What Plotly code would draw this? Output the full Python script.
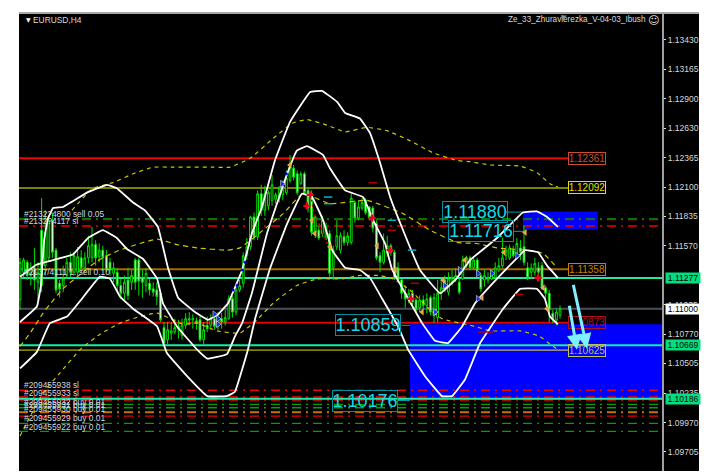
import plotly.graph_objects as go

# Candles, prices in units of 0.0001
open_p = [11108,11133,11142,11130,11137,11124,11171,11139,11146,11180,11153,11123,11121,11130,11142,11133,11133,11146,11137,11146,
11146,11158,11147,11153,11148,11142,11132,11133,11121,11114,11126,11124,11144,11144,11128,11121,11123,11118,11117,11114,
11083,11072,11078,11079,11082,11076,11085,11091,11090,11089,11090,11072,11085,11085,11091,11084,11091,11088,11091,11109,
11097,11117,11123,11148,11156,11183,11165,11204,11189,11193,11198,11199,11200,11203,11205,11216,11227,11222,11213,11222,
11207,11204,11169,11171,11168,11165,11168,11137,11156,11153,11165,11160,11160,11196,11182,11191,11198,11192,11191,11177,
11148,11142,11150,11157,11151,11137,11126,11114,11109,11114,11108,11101,11108,11103,11110,11094,11092,11114,11126,11115,
11123,11126,11124,11127,11139,11146,11137,11144,11130,11126,11126,11127,11128,11135,11139,11148,11146,11153,11150,11155,
11156,11137,11133,11133,11137,11139,11119,11114,11096,11090,11094]
high_p = [11146,11146,11144,11142,11155,11142,11200,11189,11184,11187,11155,11126,11139,11146,11151,11151,11156,11153,11151,11166,
11174,11162,11159,11157,11153,11146,11142,11137,11127,11130,11137,11135,11146,11146,11135,11137,11127,11124,11124,11117,
11088,11088,11088,11091,11090,11091,11096,11097,11095,11092,11093,11088,11093,11095,11097,11097,11096,11099,11112,11112,
11121,11126,11151,11164,11184,11187,11207,11212,11211,11207,11221,11205,11211,11216,11225,11239,11230,11225,11224,11224,
11209,11207,11184,11175,11184,11178,11171,11157,11180,11169,11171,11169,11204,11198,11198,11200,11200,11193,11193,11180,
11151,11168,11166,11159,11153,11142,11127,11121,11118,11117,11110,11112,11112,11114,11112,11114,11126,11126,11130,11133,
11135,11137,11127,11148,11148,11148,11146,11146,11132,11135,11133,11135,11142,11146,11164,11157,11158,11157,11164,11162,
11175,11142,11141,11146,11142,11142,11121,11117,11099,11100,11103]
low_p = [11099,11128,11126,11121,11117,11108,11115,11130,11142,11146,11114,11110,11115,11127,11128,11130,11128,11133,11132,11141,
11142,11139,11142,11135,11133,11130,11124,11115,11109,11108,11108,11117,11117,11112,11110,11115,11112,11111,11103,11088,
11066,11068,11072,11077,11073,11072,11082,11085,11082,11081,11070,11068,11079,11081,11081,11081,11082,11085,11090,11092,
11094,11115,11119,11144,11153,11162,11162,11184,11184,11189,11193,11195,11196,11198,11203,11214,11216,11203,11212,11203,
11187,11166,11164,11162,11165,11162,11129,11126,11153,11150,11157,11157,11158,11178,11180,11189,11185,11180,11169,11144,
11133,11140,11147,11148,11126,11124,11109,11101,11105,11103,11097,11097,11099,11096,11094,11087,11088,11108,11115,11112,
11121,11124,11113,11126,11137,11135,11135,11132,11115,11120,11123,11126,11127,11133,11137,11144,11144,11146,11146,11144,
11139,11126,11127,11130,11130,11117,11108,11088,11087,11085,11091]
close_p = [11142,11144,11130,11137,11126,11133,11121,11169,11180,11151,11117,11118,11127,11142,11133,11148,11147,11137,11146,11157,
11158,11146,11153,11146,11135,11135,11137,11121,11114,11124,11112,11130,11124,11125,11124,11132,11117,11115,11111,11090,
11069,11081,11080,11083,11084,11085,11091,11090,11091,11087,11072,11081,11082,11091,11084,11092,11088,11092,11109,11097,
11117,11121,11148,11156,11183,11165,11204,11189,11204,11205,11212,11203,11209,11213,11218,11228,11219,11205,11222,11205,
11191,11169,11183,11164,11180,11174,11132,11153,11166,11166,11160,11166,11200,11182,11192,11196,11187,11182,11173,11146,
11142,11153,11157,11151,11127,11126,11114,11109,11114,11106,11099,11108,11103,11109,11097,11110,11114,11119,11117,11127,
11128,11130,11115,11144,11146,11137,11144,11135,11118,11130,11128,11132,11137,11139,11146,11153,11155,11148,11159,11151,
11142,11128,11137,11141,11133,11119,11114,11099,11091,11097,11100]
bars = list(range(len(close_p)))

# White envelopes
upper_bars = [0,4.7,5.8,6.7,7.8,9.2,11.9,18.6,24.2,26.9,31.4,34.7,38.3,41.1,43.9,48.6,52.2,54.7,57.8,61.7,64.4,67.2,70.8,75,80.6,83.9,88.1,90.3,94.4,97.2,100,102.8,106.4,111.1,116.7,121.4,125,132.5,139.7,143.6,146.4,149.4]
upper_vals = [11088,11102,11121,11162,11182,11191,11192,11205,11212,11209,11196,11189,11174,11137,11110,11097,11090,11094,11105,11135,11168,11192,11234,11269,11296,11297,11287,11277,11272,11259,11232,11201,11171,11135,11114,11128,11144,11164,11187,11188,11183,11174]
middle_bars = [0,4.7,10.3,14.7,18.9,23,26.9,29.7,34.2,38.1,39.7,43.6,49.2,52,57.5,59.7,61.7,64.4,68.6,74.2,76.9,79.7,84.2,86.1,90.3,95.3,98.1,101.4,103.3,111.7,115.3,118.9,122.8,126.4,133.3,138.1,140.3,143.9,146.4,149.4]
middle_vals = [11129,11140,11145,11149,11164,11171,11164,11154,11145,11127,11105,11084,11063,11055,11059,11075,11087,11114,11168,11222,11243,11247,11239,11227,11207,11201,11180,11159,11136,11087,11071,11069,11084,11105,11130,11146,11153,11151,11139,11128]
lower_bars = [0,4.7,8.3,13.1,16.7,22.2,25,27.8,31.4,38.1,40.8,46.4,52,57.5,59.7,63.3,65.3,69.4,74.2,78.3,81.1,84.2,86.7,90.3,94.4,97.2,100.6,105,107.8,112.5,117.2,120,123.6,127.8,134.2,138.9,143.6,145.8,147.2,149.4]
lower_vals = [11046,11061,11087,11093,11107,11129,11127,11111,11100,11084,11060,11039,11021,11021,11025,11063,11091,11136,11177,11204,11201,11180,11153,11137,11135,11128,11109,11084,11063,11039,11021,11021,11036,11069,11100,11118,11118,11109,11093,11086]

# Yellow dotted bands
yel_top_bars = [14.4,20.3,25.8,31.4,36.9,42.5,53.6,58.3,63.9,70.3,75.8,79.7,85.3,90.3,96.4,101.9,108.3,114.7,121.4,125,130.6,138.9,143.6,147.2,149.4]
yel_top_vals = [11189,11209,11214,11222,11228,11228,11228,11228,11236,11254,11268,11271,11266,11260,11264,11261,11252,11241,11234,11233,11230,11229,11223,11213,11210]
yel_mid_bars = [0,2.8,6.4,8.3,11.9,21.4,26.9,33.3,38.1,43.6,49.2,57.5,61.1,67.5,73.1,78.6,86.1,96.4,106.4,113.9,121.4,126.9,132.5,140.8,145.3,149.2]
yel_mid_vals = [11066,11078,11096,11104,11118,11143,11152,11159,11163,11158,11155,11153,11155,11171,11186,11204,11195,11198,11186,11171,11160,11159,11155,11153,11150,11137]
yel_low_bars = [0,6.4,11.1,16.7,22.2,27.8,33.3,38.1,45.3,49.2,54.7,61.1,65.8,70.3,76.9,82.5,89.7,93.9,100,103.6,108.3,113.9,117.2,126.4,130.6,138.9,144.4,147.2,149.4]
yel_low_vals = [10985,11024,11042,11063,11077,11087,11093,11096,11086,11087,11080,11078,11090,11105,11121,11127,11127,11130,11130,11127,11117,11099,11091,11084,11080,11080,11075,11068,11063]

# Signal marks
orange_bars = [123.6,117.5,134.4,140.3,128.3,111.7,115.3,145.3,146.4,75,86.1,81.9,81.1,99.2,104.2]
orange_vals = [11144,11126,11151,11169,11110,11097,11097,11119,11100,11230,11156,11168,11180,11157,11135]
blue_bars = [127.2,118,127.2,131.1,138.1,122.2,115.3,72.8,55,55,54]
blue_vals = [11109,11121,11132,11132,11148,11135,11097,11213,11091,11086,11095]
red_bars = [143.9,108.6,80.6,79.7,97.8,102.8]
red_vals = [11128,11109,11203,11193,11182,11153]
red_dash_bars = [98,103.3,109.7,138.6,128.3,130.6]
red_dash_vals = [11214,11171,11123,11113,11079,11079]
cyan_dash_bars = [85.6,85.6,103.3,108.9]
cyan_dash_vals = [11201,11195,11180,11153]
red_dot_bars = [80.6,81.9,83.3,85,86.1]
red_dot_vals = [11203,11184,11175,11162,11153]
blue_dot_bars = [59.2,60.3,61.7,62.5,73,74]
blue_dot_vals = [11117,11121,11135,11142,11212,11222]

# Levels
solid_levels = [1.12361,1.12092,1.11358,1.10873]
solid_colors = ["#f00000","#808000","#a86800","#e00000"]
full_levels = [1.11277,1.11000,1.10669,1.10186]
full_colors = ["#20e8a8","#485058","#10f0a0","#20e8a8"]
dash_levels = [1.11813,1.11805,1.11748,1.10263,1.10202,1.10175,1.10136,1.10105,1.10070,1.10062,1.10030,1.09964,1.09892]
dash_colors = ["#00a000","#f00000","#f00000","#f00000","#f00000","#f00000","#00a000","#00a000","#00a000","#c07000","#f00000","#00a000","#00a000"]
olive_level = 1.10625

right_labels = ["1.12361","1.12092","1.11358","1.10873","1.10625"]
right_label_vals = [1.12361,1.12092,1.11358,1.10873,1.10625]
right_label_cols = ["#c85030","#e0e000","#c88000","#b01020","#c0c060"]

big_labels = ["1.11880","1.11716","1.10859","1.10176"]
big_label_bars = [126.4,128,96.7,95.7]
big_label_vals = [1.11874,1.11700,1.10850,1.10170]
leader_from = [135,137,106,105]
leader_to = [139.7,140.3,108.3,108.3]

tag_text = ["1.11277","1.11000","1.10669","1.10186"]
tag_vals = [1.11277,1.11000,1.10669,1.10186]
tag_bg = ["#00e080","#ffffff","#00e080","#00e080"]

tick_vals = [1.13430,1.13165,1.12900,1.12630,1.12365,1.12100,1.11835,1.11570,1.11035,1.10770,1.10505,1.10235,1.09970,1.09705]

order_text = ["#2132?4800 sell 0.05","#2132?4117 sl","#2137/4111 1. sell 0.10","#209455938 sl","#209455933 sl",
              "#209455932 buy 0.01","#209455931 buy 0.01","#209455930 buy 0.01","#209455929 buy 0.01","#209455922 buy 0.01"]
order_vals = [1.11857,1.11793,1.11332,1.10310,1.10238,1.10157,1.10130,1.10094,1.10012,1.09930]

XMIN, XMAX = -0.28, 178.6
SANS = "Liberation Sans"
fig = go.Figure()

def p(v):
    return [x / 10000 for x in v]

shapes = []
shapes.append(dict(type="rect", xref="paper", yref="paper", x0=1, x1=1+36/644, y0=0, y1=1,
                   fillcolor="black", line_width=0, layer="below"))
shapes.append(dict(type="rect", x0=108.3, x1=XMAX, y0=1.10176, y1=1.10859, fillcolor="#0000ff", line_width=0, layer="below"))
shapes.append(dict(type="rect", x0=139.7, x1=160.5, y0=1.11716, y1=1.11880, fillcolor="#0000ff", line_width=0, layer="below"))
for lv, col in zip(dash_levels, dash_colors):
    shapes.append(dict(type="line", x0=XMIN, x1=XMAX, y0=lv, y1=lv, layer="below",
                       line=dict(color=col, width=1.3, dash="9px,5px,2px,5px")))
for lv, col in zip(solid_levels, solid_colors):
    shapes.append(dict(type="line", x0=XMIN, x1=152.2, y0=lv, y1=lv, layer="below", line=dict(color=col, width=2)))
shapes.append(dict(type="line", x0=XMIN, x1=108.3, y0=olive_level, y1=olive_level, layer="below", line=dict(color="#808000", width=1.7)))
shapes.append(dict(type="line", x0=108.3, x1=152.2, y0=olive_level, y1=olive_level, layer="below", line=dict(color="#8a8a80", width=1.7)))
for lv, col in zip(full_levels, full_colors):
    shapes.append(dict(type="line", x0=XMIN, x1=XMAX, y0=lv, y1=lv, layer="below", line=dict(color=col, width=2)))
for a, b, v in zip(leader_from, leader_to, big_label_vals):
    shapes.append(dict(type="line", x0=a, x1=b, y0=v, y1=v, layer="below", line=dict(color="#00a0b0", width=1)))
shapes.append(dict(type="line", xref="paper", yref="paper", x0=0, x1=1+36/644, y0=1, y1=1, line=dict(color="#a8a8a8", width=2)))
shapes.append(dict(type="line", xref="paper", yref="paper", x0=1, x1=1, y0=0, y1=1, line=dict(color="#a0a0a0", width=2)))

for xs, ys, col, dash in [
    (yel_top_bars, yel_top_vals, "#c8c800", "4px,4px"),
    (yel_mid_bars, yel_mid_vals, "#c8c800", "5px,4px"),
    (yel_low_bars, yel_low_vals, "#c8c800", "4px,4px"),
]:
    fig.add_trace(go.Scatter(x=xs, y=p(ys), mode="lines", line=dict(color=col, width=1.2, dash=dash, shape="spline", smoothing=0.4)))

fig.add_trace(go.Candlestick(x=bars, open=p(open_p), high=p(high_p), low=p(low_p), close=p(close_p),
    increasing=dict(line=dict(color="#00e000", width=1), fillcolor="#000000"),
    decreasing=dict(line=dict(color="#00e000", width=1), fillcolor="#ffffff"),
    whiskerwidth=0))

for xs, ys in [(upper_bars, upper_vals), (middle_bars, middle_vals), (lower_bars, lower_vals)]:
    fig.add_trace(go.Scatter(x=xs, y=p(ys), mode="lines", line=dict(color="#ffffff", width=1.8, shape="spline", smoothing=0.25)))

fig.add_trace(go.Scatter(x=red_dot_bars, y=p(red_dot_vals), mode="lines", line=dict(color="#e00000", width=1.5, dash="2px,3px")))
fig.add_trace(go.Scatter(x=blue_dot_bars, y=p(blue_dot_vals), mode="markers", marker=dict(color="#0000ff", size=3)))
fig.add_trace(go.Scatter(x=orange_bars, y=p(orange_vals), mode="markers", marker=dict(symbol="triangle-left", color="#e8a848", size=6)))
fig.add_trace(go.Scatter(x=blue_bars, y=p(blue_vals), mode="markers", marker=dict(symbol="triangle-right", color="#1030f0", size=6, line=dict(color="white", width=0.5))))
fig.add_trace(go.Scatter(x=red_bars, y=p(red_vals), mode="markers", marker=dict(symbol="cross", color="#f00020", size=6)))
fig.add_trace(go.Scatter(x=red_dash_bars, y=p(red_dash_vals), mode="markers", marker=dict(symbol="line-ew", size=6, line=dict(color="#b00000", width=1.5))))
fig.add_trace(go.Scatter(x=cyan_dash_bars, y=p(cyan_dash_vals), mode="markers", marker=dict(symbol="line-ew", size=6, line=dict(color="#10b0c0", width=1.5))))

ann = []
for t, v in zip(order_text, order_vals):
    ann.append(dict(x=0.6, y=v, text=t, showarrow=False, xanchor="left", yanchor="middle",
                    font=dict(family=SANS, size=8.4, color="#d0d8e0")))
for t, b, v in zip(big_labels, big_label_bars, big_label_vals):
    ann.append(dict(x=b, y=v, text=t, showarrow=False, width=64, height=20, borderpad=0,
                    bordercolor="#0090a0", borderwidth=1,
                    font=dict(family=SANS, size=18, color="#10d8e8")))
for t, v, c in zip(right_labels, right_label_vals, right_label_cols):
    ann.append(dict(x=157.4, y=v, text=t, showarrow=False, width=36, height=11, borderpad=0,
                    bordercolor=c, borderwidth=1, font=dict(family=SANS, size=10, color=c)))
for t, v, c in zip(tag_text, tag_vals, tag_bg):
    ann.append(dict(xref="paper", x=1+2/644, xanchor="left", y=v, text=t, showarrow=False, width=34, height=10, borderpad=0,
                    bgcolor=c, font=dict(family=SANS, size=8.5, color="#000000")))
for ax, ay, x, y in [(153.6, 1.11230, 157.5, 1.10640), (152.5, 1.11040, 154.7, 1.10630)]:
    ann.append(dict(x=x, y=y, ax=ax, ay=ay, axref="x", ayref="y", showarrow=True, arrowhead=2, arrowsize=1,
                    arrowwidth=3, arrowcolor="#80f0ff", text=""))
ann.append(dict(xref="paper", yref="paper", x=5/644, y=1-1/458, xanchor="left", yanchor="top", showarrow=False,
                text="▼", font=dict(family="DejaVu Sans", size=6, color="#ffffff")))
ann.append(dict(xref="paper", yref="paper", x=12/644, y=1, xanchor="left", yanchor="top", showarrow=False,
                text="EURUSD,H4", font=dict(family=SANS, size=8.4, color="#d8d8d8")))
ann.append(dict(xref="paper", yref="paper", x=629/644, y=1, xanchor="right", yanchor="top", showarrow=False,
                text="Ze_33_Zhuravlerezka_V-04-03_Ibush", font=dict(family=SANS, size=8.2, color="#d8d8d8")))
ann.append(dict(xref="paper", yref="paper", x=627/644, y=1+1/458, xanchor="left", yanchor="top", showarrow=False,
                text="☺", font=dict(family="DejaVu Sans", size=11, color="#e0e0e0")))
ann.append(dict(xref="paper", yref="paper", x=545/644, y=1+1/458, xanchor="center", yanchor="top", showarrow=False,
                text="▼", font=dict(family="DejaVu Sans", size=7, color="#8090a0")))

fig.update_layout(
    width=711, height=476, autosize=False, showlegend=False,
    paper_bgcolor="white", plot_bgcolor="black",
    margin=dict(l=19, r=48, t=13, b=5),
    shapes=shapes, annotations=ann,
    xaxis=dict(range=[XMIN, XMAX], visible=False, rangeslider=dict(visible=False), fixedrange=True),
    yaxis=dict(range=[1.09533, 1.13674], side="right", showgrid=False, zeroline=False,
               tickmode="array", tickvals=tick_vals, ticktext=[f"{v:.5f}" for v in tick_vals],
               ticks="outside", ticklen=2, tickcolor="#e0e0e0", tickwidth=1,
               tickfont=dict(family=SANS, size=8.5, color="#d8d8d8"), fixedrange=True),
)
fig.write_html("out.html", config=dict(displayModeBar=False),
               post_script="document.body.style.margin='0';document.documentElement.style.overflow='hidden';")
